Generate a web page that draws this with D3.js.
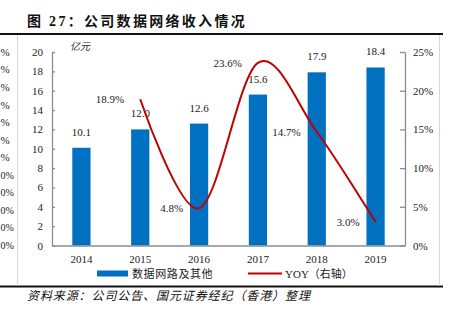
<!DOCTYPE html>
<html>
<head>
<meta charset="utf-8">
<script src="https://cdn.jsdelivr.net/npm/d3@7"></script>
<style>
  html, body { margin: 0; padding: 0; background: #fff; }
  svg { display: block; }
</style>
</head>
<body>
<svg id="chart" width="450" height="324"></svg>
<script>
// ---- data ----
const years = ["2014", "2015", "2016", "2017", "2018", "2019"];
const revenue = [10.1, 12.0, 12.6, 15.6, 17.9, 18.4];          // 亿元
const yoyYears = ["2015", "2016", "2017", "2018", "2019"];
const yoy = [0.189, 0.048, 0.236, 0.147, 0.030];
const leftTicks = [0, 2, 4, 6, 8, 10, 12, 14, 16, 18, 20];
const rightTicks = [0, 0.05, 0.10, 0.15, 0.20, 0.25];
const titleText = "图 27：公司数据网络收入情况";
const unitText = "亿元";
const legendBar = "数据网路及其他";
const legendLine = "YOY（右轴）";
const sourceText = "资料来源：公司公告、国元证券经纪（香港）整理";
// visible remnants of the neighbouring chart's axis at the left edge
const remnantLabels = ["%", "%", "%", "%", "%", "%", "%", "0%", "0%", "0%", "0%", "0%"];

// ---- layout ----
const svg = d3.select("#chart");
const serif = "'Liberation Serif', 'Times New Roman', 'Noto Sans CJK SC', serif";
const cjk = "'Liberation Serif', 'Noto Sans CJK SC', serif";
const plotL = 52, plotR = 405, plotT = 52, plotB = 245.5;

const x = d3.scaleBand().domain(years).range([plotL, plotR]).paddingInner(0.69).paddingOuter(0.345);
const yL = d3.scaleLinear().domain([0, 20]).range([plotB, plotT]);
const yR = d3.scaleLinear().domain([0, 0.25]).range([plotB, plotT]);

// frame
svg.append("line").attr("x1", 0).attr("x2", 443).attr("y1", 34).attr("y2", 34)
  .attr("stroke", "#111").attr("stroke-width", 2);
svg.append("line").attr("x1", 0).attr("x2", 443).attr("y1", 286.5).attr("y2", 286.5)
  .attr("stroke", "#111").attr("stroke-width", 2);
[17.5, 439.5].forEach(xx => svg.append("line").attr("x1", xx).attr("x2", xx)
  .attr("y1", 35).attr("y2", 285.5).attr("stroke", "#d8d8d8").attr("stroke-width", 1));

// title
svg.append("text").attr("x", 27).attr("y", 26).text(titleText)
  .attr("font-family", cjk).attr("font-size", 14).attr("font-weight", "bold")
  .attr("letter-spacing", 2.3).attr("fill", "#111");

// remnant labels
const remScale = d3.scaleLinear().domain([0, remnantLabels.length - 1]).range([52, 245.5]);
svg.append("g").selectAll("text").data(remnantLabels).join("text")
  .attr("x", 0.5)
  .attr("y", (d, i) => remScale(i)).attr("dy", "0.35em")
  .attr("text-anchor", "start").attr("font-family", serif).attr("font-size", d => d.length > 1 ? 10 : 11)
  .attr("fill", "#222").text(d => d);

// bars
svg.append("g").selectAll("rect").data(years).join("rect")
  .attr("x", d => x(d)).attr("width", x.bandwidth())
  .attr("y", (d, i) => yL(revenue[i])).attr("height", (d, i) => plotB - yL(revenue[i]))
  .attr("fill", "#0070C0");

// bar labels
svg.append("g").selectAll("text").data(years).join("text")
  .attr("x", d => x(d) + x.bandwidth() / 2)
  .attr("y", (d, i) => yL(revenue[i]) - 12)
  .attr("text-anchor", "middle").attr("font-family", serif).attr("font-size", 11)
  .attr("fill", "#222").text((d, i) => revenue[i].toFixed(1));

// axes
const axisColor = "#8c8c8c";
const gL = svg.append("g").attr("transform", `translate(${plotL},0)`)
  .call(d3.axisLeft(yL).tickValues(leftTicks).tickSizeInner(-3).tickSizeOuter(0).tickPadding(9).tickFormat(d3.format("d")));
const gR = svg.append("g").attr("transform", `translate(${plotR},0)`)
  .call(d3.axisRight(yR).tickValues(rightTicks).tickSizeInner(-5).tickSizeOuter(0).tickPadding(8).tickFormat(d3.format(".0%")));
const gB = svg.append("g").attr("transform", `translate(0,${plotB})`)
  .call(d3.axisBottom(x).tickSize(0).tickPadding(10));
[gL, gR, gB].forEach(g => {
  g.selectAll("path.domain").attr("stroke", axisColor).attr("stroke-width", 1.3);
  g.selectAll(".tick line").attr("stroke", axisColor).attr("stroke-width", 1.3);
  g.selectAll("text").attr("font-family", serif).attr("font-size", 11).attr("fill", "#222");
});

// unit label
svg.append("text").attr("x", 80).attr("y", 50).attr("text-anchor", "middle")
  .attr("font-family", cjk).attr("font-size", 10).attr("font-style", "italic")
  .attr("fill", "#222").text(unitText);

// yoy line
const lineGen = d3.line()
  .x((d, i) => x(yoyYears[i]) + x.bandwidth() / 2)
  .y(d => yR(d))
  .curve(d3.curveCardinal.tension(0));
svg.append("path").datum(yoy).attr("d", lineGen)
  .attr("fill", "none").attr("stroke", "#C00000").attr("stroke-width", 2);

svg.append("g").selectAll("text").data(yoy).join("text")
  .attr("x", (d, i) => x(yoyYears[i]) + x.bandwidth() / 2 - 16)
  .attr("y", d => yR(d)).attr("dy", "0.35em")
  .attr("text-anchor", "end").attr("font-family", serif).attr("font-size", 11)
  .attr("fill", "#222").text(d => d3.format(".1%")(d));

// legend
const lg = svg.append("g");
lg.append("rect").attr("x", 97).attr("y", 270.5).attr("width", 31).attr("height", 6).attr("fill", "#0070C0");
lg.append("text").attr("x", 132).attr("y", 277.5).text(legendBar)
  .attr("font-family", cjk).attr("font-size", 11).attr("letter-spacing", 0.6).attr("fill", "#222");
lg.append("line").attr("x1", 248).attr("x2", 282).attr("y1", 273.5).attr("y2", 273.5)
  .attr("stroke", "#C00000").attr("stroke-width", 2);
lg.append("text").attr("x", 285).attr("y", 277.5).text(legendLine)
  .attr("font-family", cjk).attr("font-size", 11).attr("fill", "#222");

// source
svg.append("text").attr("x", 27).attr("y", 299.5).text(sourceText)
  .attr("font-family", cjk).attr("font-size", 12).attr("font-style", "italic")
  .attr("letter-spacing", 0.9).attr("fill", "#111");
</script>
</body>
</html>
